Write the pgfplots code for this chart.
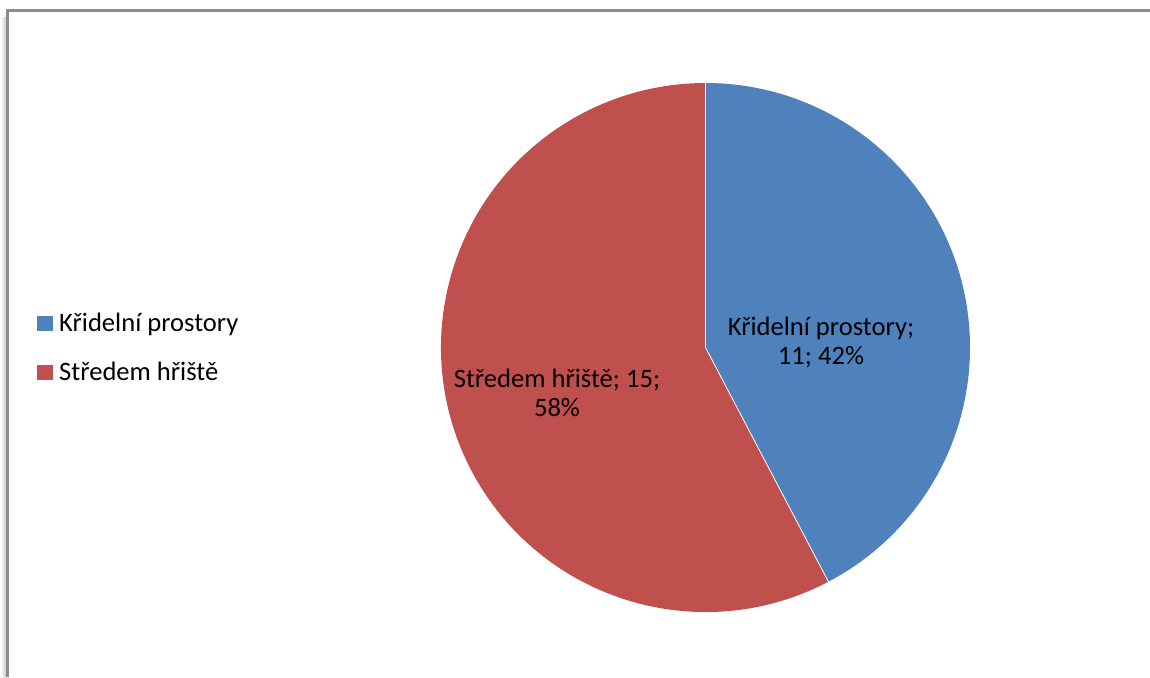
\documentclass[border=0pt]{standalone}
\usepackage{fontspec}
\setmainfont{Carlito}
\usepackage{pgfplots}
\usepackage{pgfplotstable}
\usetikzlibrary{calc}
\pgfplotsset{compat=1.18}
\definecolor{pieblue}{HTML}{4F81BD}
\definecolor{piered}{HTML}{C0504D}
\definecolor{frame}{HTML}{8C8C8C}
\pgfplotstableread{
label value
Kridelni 11
Stredem 15
}\piedata
\begin{document}
\begin{tikzpicture}
\pgfplotstablegetelem{0}{value}\of\piedata \edef\va{\pgfplotsretval}
\pgfplotstablegetelem{1}{value}\of\piedata \edef\vb{\pgfplotsretval}
\pgfmathsetmacro\tot{\va+\vb}
\pgfmathsetmacro\angA{90-360*\va/\tot}
\pgfmathsetmacro\angB{\angA-360*\vb/\tot}
\pgfmathtruncatemacro\pa{round(100*\va/\tot)}
\pgfmathtruncatemacro\pb{round(100*\vb/\tot)}
\pgfmathtruncatemacro\ia{\va}
\pgfmathtruncatemacro\ib{\vb}
\begin{axis}[
  scale only axis, width=575pt, height=338.5pt,
  xmin=0, xmax=1150, ymin=0, ymax=677,
  hide axis, clip=false,
  legend style={at={(axis cs:37,329)}, anchor=west, draw=none, fill=none,
    inner sep=0pt, row sep=10.7pt,
    nodes={inner sep=1.5pt, font=\fontsize{13.3}{15}\selectfont}},
  legend cell align=left,
]
\addlegendimage{legend image code/.code={\fill[pieblue] (0pt,-3.5pt) rectangle (7.2pt,3.5pt); \path (9pt,0pt);}}
\addlegendentry{Křidelní prostory}
\addlegendimage{legend image code/.code={\fill[piered] (0pt,-3.5pt) rectangle (7.2pt,3.5pt); \path (9pt,0pt);}}
\addlegendentry{Středem hřiště}
% frame
\shade[left color=white, right color=black!22] (axis cs:0.5,0) rectangle (axis cs:6.5,660);
\draw[frame, line width=1.1pt] (axis cs:7.5,0) -- (axis cs:7.5,666.5) -- (axis cs:1150,666.5);
% pie slices
\fill[pieblue] (axis cs:705.5,329.5) -- (axis cs:705.5,594) arc[start angle=90, end angle=\angA, radius=132.25pt] -- cycle;
\fill[piered] (axis cs:705.5,329.5) -- ($(axis cs:705.5,329.5)+(\angA:132.25pt)$) arc[start angle=\angA, end angle=\angB, radius=132.25pt] -- cycle;
\draw[white, line width=0.4pt] (axis cs:705.5,594) -- (axis cs:705.5,329.5) -- ($(axis cs:705.5,329.5)+(\angA:132.25pt)$);
% labels
\node[align=center, font=\fontsize{13.3}{14.5}\selectfont] at (axis cs:821,335) {Křidelní prostory;\\\ia; \pa\%};
\node[align=center, font=\fontsize{13.3}{14.5}\selectfont] at (axis cs:557,284) {Středem hřiště; \ib;\\\pb\%};
\end{axis}
\pgfresetboundingbox
\path (current axis.south west) rectangle (current axis.north east);
\end{tikzpicture}
\end{document}
